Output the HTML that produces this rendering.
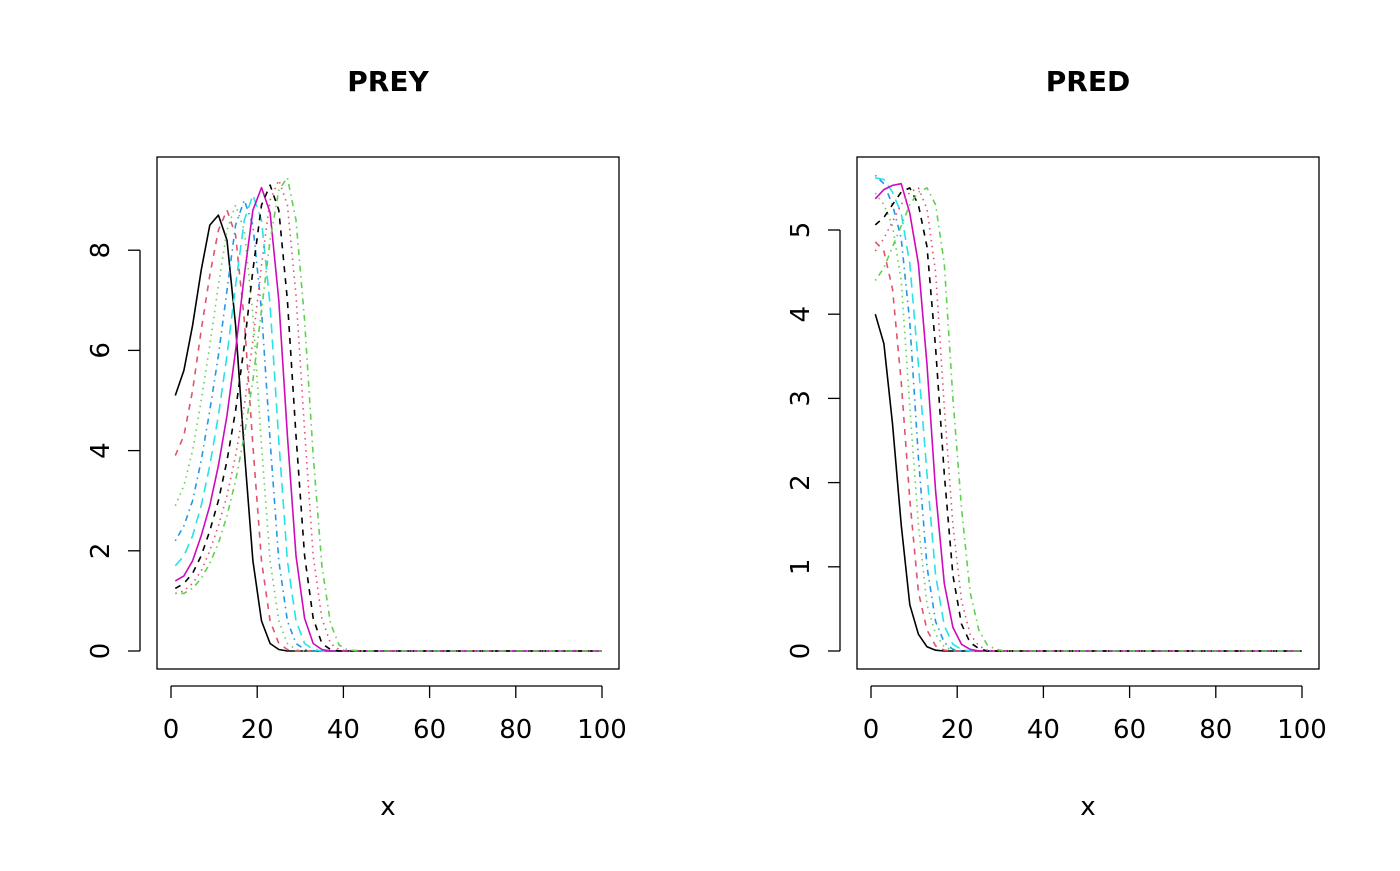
<!DOCTYPE html>
<html><head><meta charset="utf-8"><style>
body{margin:0;background:#fff;}
svg text{font-family:"DejaVu Sans","Liberation Sans",sans-serif;}
</style></head><body>
<svg id="c" width="1400" height="866" xmlns="http://www.w3.org/2000/svg"></svg>
<script>
const preyX=[1,3,5,7,9,11,13,15,17,19,21,23,25,27,29,31,33,35,37,39,41,45,50,100];
const prey0=[5.1,5.6,6.5,7.6,8.5,8.7,8.2,6.5,4.0,1.8,0.6,0.15,0.03,0,0,0,0,0,0,0,0,0,0,0];
const prey1=[3.9,4.3,5.2,6.4,7.5,8.4,8.8,8.3,6.6,4.1,1.8,0.6,0.15,0.03,0,0,0,0,0,0,0,0,0,0];
const prey2=[2.9,3.3,4.0,5.0,6.1,7.3,8.4,8.9,8.4,6.7,4.1,1.8,0.6,0.15,0.03,0,0,0,0,0,0,0,0,0];
const prey3=[2.2,2.5,3.0,3.8,4.8,5.9,7.2,8.5,9.0,8.5,6.8,4.2,1.8,0.6,0.15,0.03,0,0,0,0,0,0,0,0];
const prey4=[1.7,1.9,2.3,2.9,3.7,4.7,5.9,7.3,8.6,9.1,8.6,6.9,4.2,1.8,0.6,0.15,0.03,0,0,0,0,0,0,0];
const prey5=[1.4,1.5,1.8,2.3,2.9,3.7,4.7,6.0,7.5,8.8,9.25,8.75,7.0,4.3,1.9,0.65,0.15,0.03,0,0,0,0,0,0];
const prey6=[1.25,1.35,1.55,1.9,2.4,3.0,3.8,4.8,6.1,7.6,8.9,9.3,8.8,7.0,4.3,1.9,0.65,0.15,0.03,0,0,0,0,0];
const prey7=[1.15,1.2,1.35,1.6,2.0,2.5,3.1,3.9,4.9,6.2,7.7,9.0,9.4,8.9,7.1,4.4,1.9,0.65,0.15,0.03,0,0,0,0];
const prey8=[1.15,1.15,1.25,1.45,1.75,2.15,2.7,3.4,4.3,5.4,6.8,8.2,9.2,9.45,8.6,6.6,3.9,1.7,0.55,0.12,0.02,0,0,0];
const predX=[1,3,5,7,9,11,13,15,17,19,21,23,25,27,29,31,35,40,100];
const pred0=[4.0,3.65,2.7,1.5,0.55,0.2,0.05,0.01,0,0,0,0,0,0,0,0,0,0,0];
const pred1=[4.86,4.75,4.3,3.2,1.8,0.7,0.25,0.06,0.01,0,0,0,0,0,0,0,0,0,0];
const pred2=[5.44,5.3,5.05,4.4,2.9,1.5,0.55,0.2,0.05,0.01,0,0,0,0,0,0,0,0,0];
const pred3=[5.65,5.55,5.3,4.9,3.9,2.3,1.0,0.35,0.1,0.02,0,0,0,0,0,0,0,0,0];
const pred4=[5.62,5.6,5.45,5.2,4.6,3.4,2.1,0.9,0.3,0.08,0.02,0,0,0,0,0,0,0,0];
const pred5=[5.37,5.48,5.53,5.55,5.2,4.6,3.4,1.9,0.8,0.28,0.08,0.02,0,0,0,0,0,0,0];
const pred6=[5.06,5.15,5.3,5.45,5.5,5.3,4.8,3.6,2.1,0.9,0.32,0.1,0.03,0,0,0,0,0,0];
const pred7=[4.75,4.9,5.1,5.3,5.45,5.5,5.25,4.5,2.9,1.5,0.6,0.2,0.06,0.01,0,0,0,0,0];
const pred8=[4.4,4.55,4.8,5.05,5.3,5.45,5.5,5.3,4.6,3.0,1.7,0.7,0.25,0.07,0.02,0,0,0,0];
const xTicks=[0,20,40,60,80,100];
const preyYTicks=[0,2,4,6,8];
const predYTicks=[0,1,2,3,4,5];

const cols=['#000000','#DF536B','#61D04F','#2297E6','#28E2E5','#CD0BBC','#000000','#DF536B','#61D04F'];
const dashes=['','6,6','1.5,4.5','1.5,4.5,6,4.5','10,6','','6,6','1.5,4.5','1.5,4.5,6,4.5'];
const svg=document.getElementById('c');
const NS='http://www.w3.org/2000/svg';
function mk(t,a,txt){const e=document.createElementNS(NS,t);for(const k in a)e.setAttribute(k,a[k]);if(txt!==undefined)e.textContent=txt;svg.appendChild(e);return e;}

function panel(name,left,xs,series,yTicks,yPerUnit,title){
  const bx=left, by=157, bw=462, bh=512;
  const sx=v=>bx+14+v*4.31;
  const sy=v=>651-v*yPerUnit;
  let e=mk('text',{x:bx+231,y:91,'text-anchor':'middle','font-size':'28','font-weight':'bold'},title);
  
  
  e=mk('rect',{x:bx,y:by,width:bw,height:bh,fill:'none',stroke:'#000','stroke-width':1.3});
  
  
  e=mk('line',{x1:sx(0),y1:686,x2:sx(100),y2:686,stroke:'#000','stroke-width':1.3});
  
  
  xTicks.forEach(t=>{
    let l=mk('line',{x1:sx(t),y1:686,x2:sx(t),y2:698,stroke:'#000','stroke-width':1.3});
    
    
    let s=mk('text',{x:sx(t),y:738,'text-anchor':'middle','font-size':'26'},String(t));
    
    
  });
  e=mk('line',{x1:bx-17,y1:sy(yTicks[0]),x2:bx-17,y2:sy(yTicks[yTicks.length-1]),stroke:'#000','stroke-width':1.3});
  
  
  yTicks.forEach(t=>{
    let l=mk('line',{x1:bx-29,y1:sy(t),x2:bx-17,y2:sy(t),stroke:'#000','stroke-width':1.3});
    
    
    let s=mk('text',{x:0,y:0,'text-anchor':'middle','font-size':'26',transform:`translate(${bx-48},${sy(t)}) rotate(-90)`},String(t));
    
    
  });
  e=mk('text',{x:bx+231,y:815,'text-anchor':'middle','font-size':'26'},'x');
  
  
  series.forEach((vals,i)=>{
    const pts=vals.map((v,j)=>sx(xs[j]).toFixed(1)+','+sy(v).toFixed(1)).join(' ');
    const a={points:pts,fill:'none',stroke:cols[i],'stroke-width':1.6,'stroke-linejoin':'round'};
    if(dashes[i])a['stroke-dasharray']=dashes[i];
    const p=mk('polyline',a);
    
    
  });
}
panel('prey',157,preyX,[prey0,prey1,prey2,prey3,prey4,prey5,prey6,prey7,prey8],preyYTicks,50.1,'PREY');
panel('pred',857,predX,[pred0,pred1,pred2,pred3,pred4,pred5,pred6,pred7,pred8],predYTicks,84.2,'PRED');
</script>
</body></html>
